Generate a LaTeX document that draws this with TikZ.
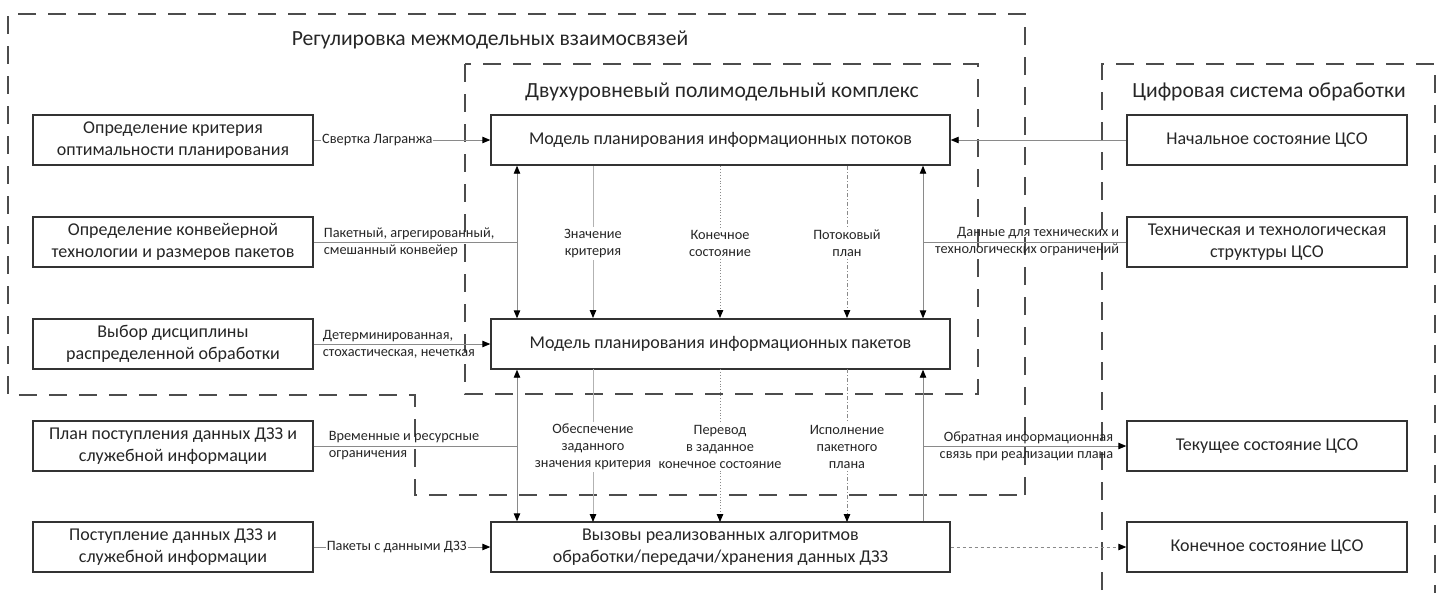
\documentclass[tikz,border=0pt]{standalone}
\usepackage{fontspec}
\setmainfont{Carlito}
\usepackage{tikz}
\usetikzlibrary{arrows.meta}
\definecolor{myline}{HTML}{8A8A8A}
\definecolor{mytext}{HTML}{262626}
\tikzstyle{arrow} = [-{Triangle[color=black,length=8pt,width=6.5pt]}]
\tikzstyle{conn} = [draw=myline, line width=0.9pt]
\tikzstyle{block} = [rectangle, draw=black!80, line width=1.4pt, minimum width=280pt,
minimum height=50pt, text centered, align=center, inner sep=0pt,
font=\fontsize{18}{22}\selectfont, text=mytext, fill=white]
\tikzstyle{wideblock} = [block, minimum width=459pt]
\tikzstyle{frame} = [draw=black!70, line width=1.6pt, dash pattern=on 18pt off 12pt]
\tikzstyle{title} = [font=\fontsize{21.6}{26}\selectfont, text=mytext]
\tikzstyle{lbl} = [font=\fontsize{14.3}{17}\selectfont, text=mytext, inner sep=1pt]
\tikzstyle{midlbl} = [lbl, align=center, fill=white, inner sep=2pt]

\begin{document}
\begin{tikzpicture}[x=1pt, y=-1pt]
  \useasboundingbox (0,0) rectangle (1439,592);
  \draw[frame] (1025,495) -- (1025,14) -- (8,14) -- (8,395) -- (415,395) -- (415,495) -- cycle;
  \draw[frame] (465,64) rectangle (978,394);
  \draw[frame] (1102,620) -- (1102,64) -- (1435,64) -- (1435,620);
  \node[title] (tReg) at (490,40) {Регулировка межмодельных взаимосвязей};
  \node[title] (tPoly) at (722,92) {Двухуровневый полимодельный комплекс};
  \node[title] (tCso) at (1269,92) {Цифровая система обработки};

  \node[block] (crit) at (173,140) {Определение критерия\\оптимальности планирования};
  \node[block] (conv) at (173,242) {Определение конвейерной\\технологии и размеров пакетов};
  \node[block] (disc) at (173,344) {Выбор дисциплины\\распределенной обработки};
  \node[block] (plan) at (173,446) {План поступления данных ДЗЗ и\\служебной информации};
  \node[block] (recv) at (173,547) {Поступление данных ДЗЗ и\\служебной информации};

  \node[wideblock] (flows) at (720.5,140) {Модель планирования информационных потоков};
  \node[wideblock] (packs) at (720.5,344) {Модель планирования информационных пакетов};
  \node[wideblock] (calls) at (720.5,547) {Вызовы реализованных алгоритмов\\обработки/передачи/хранения данных ДЗЗ};

  \node[block] (init) at (1267,140) {Начальное состояние ЦСО};
  \node[block] (struct) at (1267,242) {Техническая и технологическая\\структуры ЦСО};
  \node[block] (curr) at (1267,446) {Текущее состояние ЦСО};
  \node[block] (final) at (1267,547) {Конечное состояние ЦСО};

  \coordinate (jL1) at (517,242);
  \coordinate (jR1) at (923,242);
  \coordinate (jL2) at (517,446);
  \coordinate (jR2) at (923,446);

  \draw[conn, arrow] (crit) -- node[lbl, fill=white, pos=0.36] {Свертка Лагранжа} (flows);
  \draw[conn] (conv) -- (jL1);
  \draw[conn, arrow] (jL1) -- (jL1 |- flows.south);
  \draw[conn, arrow] (jL1) -- (jL1 |- packs.north);
  \node[lbl, anchor=west, align=left] (convL) at ([xshift=9pt]conv.east) {Пакетный, агрегированный,\\смешанный конвейер};
  \draw[conn, arrow] (disc) -- (packs);
  \node[lbl, anchor=west, align=left] (discL) at ([xshift=8pt]disc.east) {Детерминированная,\\стохастическая, нечеткая};
  \draw[conn] (plan) -- (jL2);
  \draw[conn, arrow] (jL2) -- (jL2 |- packs.south);
  \draw[conn, arrow] (jL2) -- (jL2 |- calls.north);
  \node[lbl, anchor=west, align=left] (planL) at ([xshift=14pt]plan.east) {Временные и ресурсные\\ограничения};
  \draw[conn, arrow] (recv) -- node[lbl, fill=white, pos=0.47] {Пакеты с данными ДЗЗ} (calls);

  \draw[conn, arrow] (init) -- (flows);
  \draw[conn] (struct) -- (jR1);
  \draw[conn, arrow] (jR1) -- (jR1 |- flows.south);
  \draw[conn, arrow] (jR1) -- (jR1 |- packs.north);
  \node[lbl, anchor=east, align=right] (structL) at ([xshift=-6pt]struct.west) {Данные для технических и\\технологических ограничений};
  \draw[conn] (jR2 |- calls.north) -- (jR2);
  \draw[conn, arrow] (jR2) -- (jR2 |- packs.south);
  \draw[conn, arrow] (jR2) -- (curr);
  \node[lbl, anchor=east, align=right] (currL) at ([xshift=-12pt]curr.west) {Обратная информационная\\связь при реализации плана};
  \draw[conn, arrow, dash pattern=on 3pt off 3pt] (calls) -- (final);

  \draw[conn, draw=black!30, arrow] (593,166) -- node[midlbl, pos=0.51] {Значение\\критерия} (593,318);
  \draw[conn, dotted, arrow] (720,166) -- node[midlbl, pos=0.51] {Конечное\\состояние} (720,318);
  \draw[conn, dash pattern=on 4pt off 2pt on 1pt off 2pt, arrow] (847,166) -- node[midlbl, pos=0.51] {Потоковый\\план} (847,318);
  \draw[conn, draw=black!30, arrow] (593,369) -- node[midlbl, pos=0.51] {Обеспечение\\заданного\\значения критерия} (593,522);
  \draw[conn, dotted, arrow] (720,369) -- node[midlbl, pos=0.51] {Перевод\\в заданное\\конечное состояние} (720,522);
  \draw[conn, dash pattern=on 4pt off 2pt on 1pt off 2pt, arrow] (847,369) -- node[midlbl, pos=0.51] {Исполнение\\пакетного\\плана} (847,522);
\end{tikzpicture}
\end{document}
